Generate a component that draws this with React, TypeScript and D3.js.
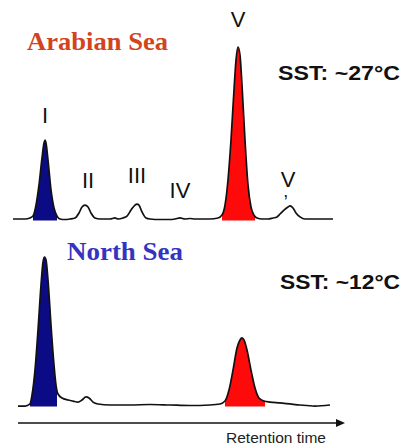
import React from "react";
import * as d3 from "d3";

// retention time (arbitrary units) and signal (relative, peak V top = 100)
const arabianTrace: [number, number][] = [
  [0, 0], [1.2, 0], [1.7, 0.6], [2.0, 1.7], [2.3, 8.1], [2.6, 19.8], [2.9, 35.5], [3.1, 44.2], [3.2, 45.9],
  [3.3, 44.2], [3.5, 34.3], [3.8, 16.9], [4.1, 6.4], [4.4, 1.7], [4.7, 0], [5.2, -0.3], [5.7, 0], [6.2, 0.6],
  [6.6, 3.5], [6.9, 7.0], [7.2, 8.1], [7.5, 7.0], [7.8, 3.5], [8.2, 0.6], [8.7, 0], [9.7, 0], [10.2, 0.6],
  [10.5, 0], [11.0, 0.6], [11.4, 1.7], [11.8, 5.2], [12.2, 8.1], [12.4, 8.7], [12.6, 8.1], [12.9, 4.1],
  [13.3, 0.6], [13.7, 0], [14.7, -0.3], [15.7, -0.3], [16.2, 0], [16.7, 0.6], [17.2, 0], [17.7, 0.3],
  [18.2, 0], [18.7, 0], [19.7, 0], [20.5, 0.6], [20.9, 2.3], [21.2, 8.1], [21.5, 22.7], [21.8, 45.9],
  [22.1, 75.0], [22.3, 92.4], [22.5, 100], [22.7, 95.3], [22.9, 77.9], [23.2, 45.9], [23.5, 19.8],
  [23.8, 7.0], [24.1, 2.3], [24.4, 0.6], [24.9, 0], [25.5, 0], [26.0, 0.6], [26.4, 1.2], [26.7, 2.9],
  [27.1, 5.2], [27.5, 7.0], [27.7, 7.6], [28.0, 6.4], [28.3, 3.5], [28.7, 1.2], [29.2, 0], [30.7, 0], [32.0, 0],
];

const northTrace: [number, number][] = [
  [0.5, -0.6], [1.2, -0.6], [1.7, 0.6], [1.9, 5.8], [2.2, 20.3], [2.5, 43.6], [2.8, 69.8], [3.0, 83.1],
  [3.15, 86.0], [3.3, 84.3], [3.5, 72.7], [3.8, 46.5], [4.1, 23.3], [4.3, 11.6], [4.5, 6.4], [4.9, 4.1],
  [5.5, 2.9], [6.0, 2.3], [6.5, 1.7], [6.9, 2.9], [7.3, 4.7], [7.6, 4.1], [8.0, 1.7], [8.5, 0.6], [9.7, 0],
  [11.7, 0], [13.7, 0.3], [15.7, 0], [17.7, -0.3], [19.7, 0], [20.7, 0.6], [21.2, 2.3], [21.6, 8.7],
  [22.0, 20.3], [22.4, 33.1], [22.7, 37.8], [22.9, 39.0], [23.1, 37.8], [23.4, 32.0], [23.8, 20.3],
  [24.2, 9.9], [24.6, 4.1], [25.1, 2.3], [25.7, 1.7], [26.7, 1.2], [27.7, 0.6], [28.7, 0], [30.2, -0.6], [31.7, 0],
];

// shaded peaks: [start, end] retention time
const arabianBlue: [number, number] = [2.0, 4.4];
const arabianRed: [number, number] = [20.9, 24.2];
const northBlue: [number, number] = [1.7, 4.4];
const northRed: [number, number] = [21.2, 25.2];

// peak labels: text, suffix (below), retention time, signal level of label baseline
const peakLabels: [string, string, number, number][] = [
  ["I", "", 3.2, 56],
  ["II", "", 7.5, 18],
  ["III", "", 12.4, 21],
  ["IV", "", 16.7, 12.5],
  ["V", "", 22.5, 111.6],
  ["V", ",", 27.5, 18.6],
];

const titles = ["Arabian Sea", "North Sea"];
const sstLabels = ["SST: ~27°C", "SST: ~12°C"];
const axisLabel = "Retention time";

const W = 405;
const H = 445;

const x = d3.scaleLinear().domain([0, 32]).range([13, 333]);
const yTop = d3.scaleLinear().domain([0, 100]).range([219, 47]);
const yBot = d3.scaleLinear().domain([0, 100]).range([405, 233]);

const BLUE = "#0b0b86";
const RED = "#ff0a0a";

function Trace({ data, y, blue, red, id }: { data: [number, number][]; y: d3.ScaleLinear<number, number>; blue: [number, number]; red: [number, number]; id: string }) {
  const line = d3.line<[number, number]>().x((d) => x(d[0])).y((d) => y(d[1])).curve(d3.curveMonotoneX);
  const area = d3
    .area<[number, number]>()
    .x((d) => x(d[0]))
    .y0(y(0) + 1.5)
    .y1((d) => y(d[1]))
    .curve(d3.curveMonotoneX);
  const a = area(data) || "";
  return (
    <g>
      <defs>
        <clipPath id={id + "b"}>
          <rect x={x(blue[0])} y={0} width={x(blue[1]) - x(blue[0])} height={H} />
        </clipPath>
        <clipPath id={id + "r"}>
          <rect x={x(red[0])} y={0} width={x(red[1]) - x(red[0])} height={H} />
        </clipPath>
      </defs>
      <path d={a} fill={BLUE} clipPath={`url(#${id}b)`} />
      <path d={a} fill={RED} clipPath={`url(#${id}r)`} />
      <path d={line(data) || ""} fill="none" stroke="#111" strokeWidth={1.7} strokeLinejoin="round" />
    </g>
  );
}

export default function App() {
  const axisY = 423;
  const x0 = x(0.5);
  const x1 = x(33.2);
  return (
    <svg width={W} height={H} style={{ position: "absolute", left: 0, top: 0, background: "#fff" }}>
      <Trace data={arabianTrace} y={yTop} blue={arabianBlue} red={arabianRed} id="a" />
      <Trace data={northTrace} y={yBot} blue={northBlue} red={northRed} id="n" />

      {peakLabels.map(([t, suf, rt, s], i) => (
        <text key={i} x={x(rt)} y={yTop(s)} textAnchor="middle" fontFamily="Liberation Sans, Arial, sans-serif" fontSize={22} fill="#111">
          {t}
          {suf ? (
            <tspan dx={-12} dy={10} fontSize={18}>
              {suf}
            </tspan>
          ) : null}
        </text>
      ))}

      <text x={27} y={50} fontFamily="Liberation Serif, Times New Roman, serif" fontWeight="bold" fontSize={26} fill="#d2441c" textLength={141} lengthAdjust="spacingAndGlyphs">
        {titles[0]}
      </text>
      <text x={67} y={260} fontFamily="Liberation Serif, Times New Roman, serif" fontWeight="bold" fontSize={26} fill="#3434c0" textLength={116} lengthAdjust="spacingAndGlyphs">
        {titles[1]}
      </text>

      <text x={278} y={80} fontFamily="Liberation Sans, Arial, sans-serif" fontWeight="bold" fontSize={21} fill="#111" textLength={122} lengthAdjust="spacingAndGlyphs">
        {sstLabels[0]}
      </text>
      <text x={280} y={289} fontFamily="Liberation Sans, Arial, sans-serif" fontWeight="bold" fontSize={21} fill="#111" textLength={120} lengthAdjust="spacingAndGlyphs">
        {sstLabels[1]}
      </text>

      <line x1={x0} x2={x1 - 6} y1={axisY} y2={axisY} stroke="#111" strokeWidth={1.3} />
      <path d={`M${x1},${axisY} L${x1 - 9},${axisY - 4} L${x1 - 9},${axisY + 4} Z`} fill="#111" />
      <text x={226} y={443} fontFamily="Liberation Sans, Arial, sans-serif" fontSize={15} fill="#222" textLength={100} lengthAdjust="spacingAndGlyphs">
        {axisLabel}
      </text>
    </svg>
  );
}
